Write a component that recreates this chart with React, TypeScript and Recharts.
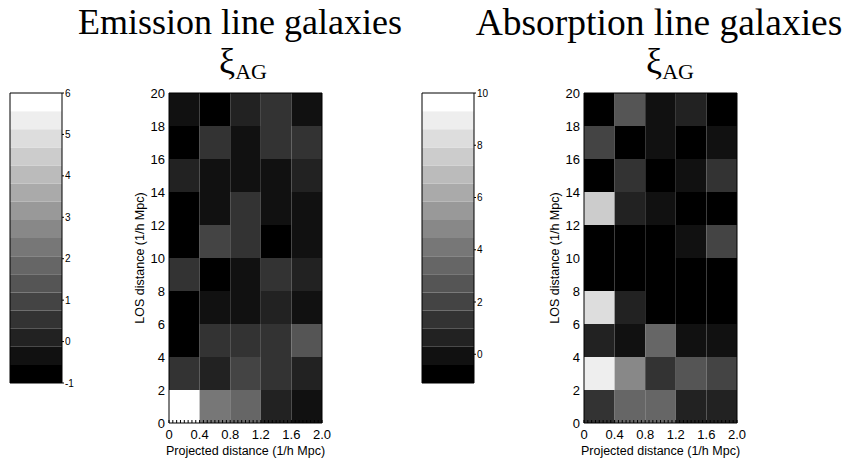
import React from 'react';
import { ScatterChart, Scatter, XAxis, YAxis, ReferenceArea, Label } from 'recharts';

// bin edges of the 2D correlation grid
const xEdges = [0, 0.4, 0.8, 1.2, 1.6, 2.0];
const yEdges = [0, 2, 4, 6, 8, 10, 12, 14, 16, 18, 20];
const xTickLabels = ['0', '0.4', '0.8', '1.2', '1.6', '2.0'];
const yTicks = [0, 2, 4, 6, 8, 10, 12, 14, 16, 18, 20];

// xi_AG per cell, rows start at LOS 0-2 and go up; columns by projected distance
const emissionXi = [
  [5.8, 2.3, 1.8, 0.1, -0.3],
  [0.5, 0.1, 1.0, 0.5, 0.1],
  [-0.8, 0.5, 0.5, 0.5, 1.4],
  [-0.8, -0.3, -0.3, 0.1, -0.3],
  [0.5, -0.8, -0.3, 0.5, 0.1],
  [-0.8, 1.0, 0.5, -0.8, -0.3],
  [-0.8, -0.3, 0.5, -0.3, -0.3],
  [0.1, -0.3, -0.3, -0.3, 0.1],
  [-0.8, 0.5, -0.3, 0.5, 0.5],
  [-0.3, -0.8, 0.1, 0.5, -0.3]
];

const absorptionXi = [
  [1.3, 3.4, 3.4, 0.6, 0.6],
  [9.0, 4.8, 1.3, 2.7, 2.0],
  [0.6, -0.1, 3.4, -0.1, -0.1],
  [8.3, 0.6, -0.8, -0.8, -0.8],
  [-0.8, -0.8, -0.8, -0.8, -0.8],
  [-0.8, -0.8, -0.8, -0.1, 2.0],
  [7.6, 0.6, -0.1, -0.8, -0.8],
  [-0.8, 1.3, -0.8, -0.1, 1.3],
  [2.0, -0.8, -0.1, -0.8, -0.1],
  [-0.8, 2.7, -0.1, 0.6, -0.8]
];

const emissionRange: [number, number] = [-1, 6];
const emissionBarTicks = [-1, 0, 1, 2, 3, 4, 5, 6];
const absorptionRange: [number, number] = [-1.1, 10];
const absorptionBarTicks = [0, 2, 4, 6, 8, 10];

const LEVELS = 16;
const SANS = '"Liberation Sans", Arial, sans-serif';
const SERIF = '"Liberation Serif", "Times New Roman", serif';

const minorTicks = Array.from({ length: 41 }, (_, i) => +(i * 0.05).toFixed(2));

const grayFor = (v: number, [lo, hi]: [number, number]) => {
  const band = Math.max(0, Math.min(LEVELS - 1, Math.floor(((v - lo) / (hi - lo)) * LEVELS)));
  const g = band * 17;
  return `rgb(${g},${g},${g})`;
};

const TICK_GAP = 6; // tickSize + tickMargin of the bottom axis

const BottomTick = (props: any) => {
  const { x, y, payload } = props;
  const idx = xEdges.findIndex((e) => Math.abs(e - payload.value) < 1e-6);
  const edge = y - TICK_GAP;
  return (
    <g>
      <line x1={x} x2={x} y1={edge} y2={edge - 3} stroke="#000" strokeWidth={1} />
      {idx >= 0 && (
        <text x={x} y={y} dy={10} textAnchor="middle" fontSize={13} fontFamily={SANS} fill="#000">
          {xTickLabels[idx]}
        </text>
      )}
    </g>
  );
};

const TopTick = (props: any) => {
  const { x, y } = props;
  return <line x1={x} x2={x} y1={y} y2={y + 3} stroke="#000" strokeWidth={1} />;
};

const NoDot = () => <g />;

interface HeatmapProps {
  grid: number[][];
  range: [number, number];
  left: number;
}

const Heatmap: React.FC<HeatmapProps> = ({ grid, range, left }) => {
  const cells = grid.flatMap((row, r) =>
    row.map((v, c) => ({
      x1: xEdges[c],
      x2: xEdges[c + 1],
      y1: yEdges[r],
      y2: yEdges[r + 1],
      x: (xEdges[c] + xEdges[c + 1]) / 2,
      y: (yEdges[r] + yEdges[r + 1]) / 2,
      xi: v,
      fill: grayFor(v, range)
    }))
  );

  return (
    <div style={{ position: 'absolute', left, top: 0 }}>
      <ScatterChart width={220} height={460} margin={{ top: 93, right: 18, bottom: 0, left: 0 }}>
        <XAxis
          xAxisId="top"
          orientation="top"
          type="number"
          dataKey="x"
          domain={[0, 2]}
          ticks={minorTicks}
          height={0}
          tickSize={0}
          tickMargin={0}
          tickLine={false}
          axisLine={false}
          tick={<TopTick />}
          interval={0}
        />
        <XAxis
          xAxisId="bottom"
          type="number"
          dataKey="x"
          domain={[0, 2]}
          ticks={minorTicks}
          height={37}
          tickSize={2}
          tickMargin={4}
          tickLine={false}
          axisLine={false}
          tick={<BottomTick />}
          interval={0}
        >
          <Label
            value="Projected distance (1/h Mpc)"
            position="insideBottom"
            offset={5}
            style={{ fontSize: 12.5, fontFamily: SANS, fill: '#000' }}
          />
        </XAxis>
        <YAxis
          yAxisId="left"
          type="number"
          dataKey="y"
          domain={[0, 20]}
          ticks={yTicks}
          width={49}
          tickSize={2}
          tickMargin={2}
          tickLine={false}
          axisLine={false}
          interval={0}
          tick={{ fontSize: 13, fontFamily: SANS, fill: '#000' }}
        >
          <Label
            value="LOS distance (1/h Mpc)"
            angle={-90}
            position="center"
            dx={-5}
            style={{ fontSize: 12.5, fontFamily: SANS, fill: '#000' }}
          />
        </YAxis>
        <Scatter
          data={cells}
          xAxisId="bottom"
          yAxisId="left"
          shape={<NoDot />}
          isAnimationActive={false}
        />
        <Scatter
          data={cells}
          xAxisId="top"
          yAxisId="left"
          shape={<NoDot />}
          isAnimationActive={false}
        />
        {cells.map((c, i) => (
          <ReferenceArea
            key={i}
            xAxisId="bottom"
            yAxisId="left"
            x1={c.x1}
            x2={c.x2}
            y1={c.y1}
            y2={c.y2}
            fill={c.fill}
            fillOpacity={1}
            stroke="none"
          />
        ))}
        <ReferenceArea
          xAxisId="bottom"
          yAxisId="left"
          x1={0}
          x2={2}
          y1={0}
          y2={20}
          fill="none"
          stroke="#000"
          strokeWidth={1}
        />
      </ScatterChart>
    </div>
  );
};

interface ColorBarProps {
  range: [number, number];
  ticks: number[];
  left: number;
}

const ColorBar: React.FC<ColorBarProps> = ({ range, ticks, left }) => {
  const [lo, hi] = range;
  const step = (hi - lo) / LEVELS;
  const bands = Array.from({ length: LEVELS }, (_, i) => ({
    y1: lo + i * step,
    y2: lo + (i + 1) * step,
    x: 0.5,
    y: lo + (i + 0.5) * step,
    fill: `rgb(${i * 17},${i * 17},${i * 17})`
  }));

  return (
    <div style={{ position: 'absolute', left, top: 0 }}>
      <ScatterChart width={90} height={400} margin={{ top: 93, right: 0, bottom: 17, left: 10 }}>
        <XAxis xAxisId="cb" type="number" dataKey="x" domain={[0, 1]} hide />
        <YAxis
          yAxisId="cb"
          orientation="right"
          type="number"
          dataKey="y"
          domain={range}
          ticks={ticks}
          width={28}
          tickSize={2}
          tickMargin={1}
          tickLine={{ stroke: '#000' }}
          axisLine={false}
          interval={0}
          tick={{ fontSize: 10, fontFamily: SANS, fill: '#000' }}
        />
        <Scatter
          data={bands}
          xAxisId="cb"
          yAxisId="cb"
          shape={<NoDot />}
          isAnimationActive={false}
        />
        {bands.map((b, i) => (
          <ReferenceArea
            key={i}
            xAxisId="cb"
            yAxisId="cb"
            x1={0}
            x2={1}
            y1={b.y1}
            y2={b.y2}
            fill={b.fill}
            fillOpacity={1}
            stroke="none"
          />
        ))}
        <ReferenceArea
          xAxisId="cb"
          yAxisId="cb"
          x1={0}
          x2={1}
          y1={lo}
          y2={hi}
          fill="none"
          stroke="#000"
          strokeWidth={1}
        />
      </ScatterChart>
    </div>
  );
}

export default function App() {
  return (
    <div
      style={{
        position: 'absolute',
        left: 0,
        top: 0,
        width: 847,
        height: 460,
        background: '#fff',
        overflow: 'hidden'
      }}
    >
      <svg width={847} height={92} style={{ position: 'absolute', left: 0, top: 0 }}>
        <text x={240} y={34} textAnchor="middle" fontSize={36} fontFamily={SERIF} fill="#000">
          Emission line galaxies
        </text>
        <text x={243} y={73} textAnchor="middle" fontFamily={SERIF} fill="#000">
          <tspan fontSize={36}>ξ</tspan>
          <tspan fontSize={22} dy={6}>AG</tspan>
        </text>
        <text x={659} y={35} textAnchor="middle" fontSize={37.5} fontFamily={SERIF} fill="#000">
          Absorption line galaxies
        </text>
        <text x={670} y={73} textAnchor="middle" fontFamily={SERIF} fill="#000">
          <tspan fontSize={36}>ξ</tspan>
          <tspan fontSize={22} dy={6}>AG</tspan>
        </text>
      </svg>
      <ColorBar range={emissionRange} ticks={emissionBarTicks} left={0} />
      <Heatmap grid={emissionXi} range={emissionRange} left={120} />
      <ColorBar range={absorptionRange} ticks={absorptionBarTicks} left={412} />
      <Heatmap grid={absorptionXi} range={absorptionRange} left={535} />
    </div>
  );
}
